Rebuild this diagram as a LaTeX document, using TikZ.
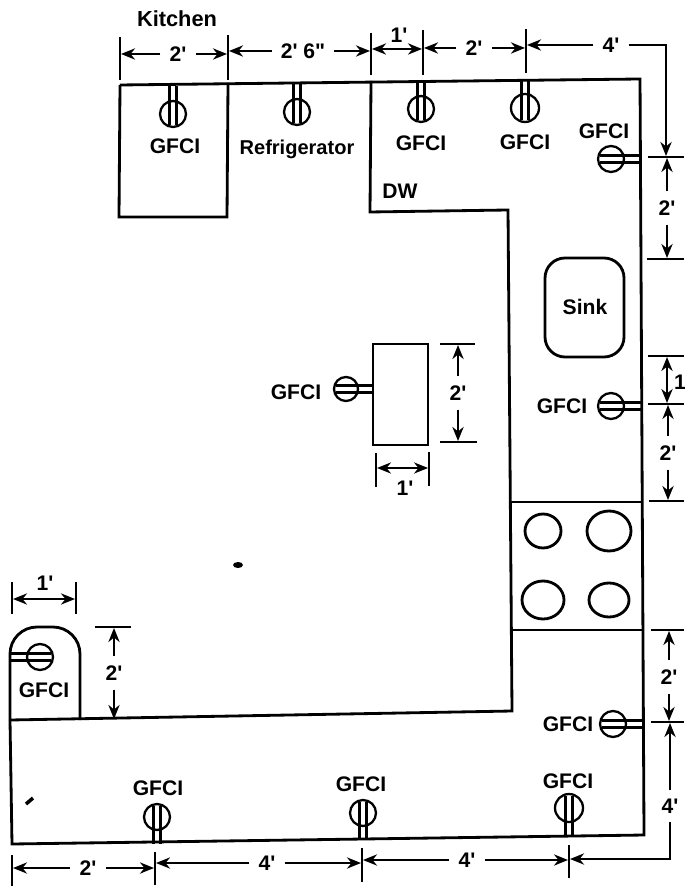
\documentclass[tikz,border=0pt]{standalone}
\usepackage{fontspec}
\setmainfont{Liberation Sans}[Ligatures=TeXOff]
\usetikzlibrary{arrows.meta}

\tikzset{
    wall/.style={line width=0.8pt},
    outlet/.style={line width=0.65pt},
    ticks/.style={line width=0.7pt},
    dimline/.style={line width=0.55pt, -{Stealth[length=4pt,width=3.2pt]}},
    dimboth/.style={line width=0.55pt, {Stealth[length=4pt,width=3.2pt]}-{Stealth[length=4pt,width=3.2pt]}},
    lbl/.style={font=\fontsize{6}{7}\selectfont\bfseries, inner sep=0pt},
    dimlbl/.style={font=\fontsize{6}{7}\selectfont\bfseries, inner sep=2.4pt}
}

\begin{document}
\begin{tikzpicture}[x=0.01cm, y=-0.01cm]
            \useasboundingbox (0,0) rectangle (684,886);

            % walls
            \draw[wall] (10,720)--(12,844)--(644,835)--(640,79)--(120,85);
            \draw[wall] (371,81)--(370,212)--(508,210)--(512,711)--(10,720);
            \draw[wall] (120,85)--(119,217)--(227,217)--(228,83);
            \draw[wall, rounded corners=0.27cm] (10,720)--(10,627)--(80,627)--(80,720);

            % island and sink
            \draw[wall] (373,344) rectangle (428,445);
            \draw[wall, rounded corners=0.2cm] (545,258) rectangle (624,357);

            % range
            \draw[wall] (510,502)--(641,502);
            \draw[wall] (511,630)--(643,630);
            \draw[wall] (543,531) circle[x radius=18, y radius=17];
            \draw[wall] (609,531) circle[x radius=22, y radius=20];
            \draw[wall] (543,600) circle[x radius=21, y radius=19];
            \draw[wall] (609,600) circle[x radius=20, y radius=17];

            % outlets
            \foreach \cx/\cy/\ang/\len/\rad in {173/114/90/28/13, 297/112/90/29/13, 421/109/90/29/13,
                525/108/90/29/14, 611/159/0/29/13, 611/406/0/30/13, 346/389/0/27/12, 40/657/180/30/13,
                613/724/0/30/13, 569/808/-90/27/14, 363/813/-90/25/13, 157/817/-90/27/13}
            {
                \begin{scope}[shift={(\cx,\cy)}, rotate=\ang]
                    \draw[outlet, fill=white] (0,0) circle[radius=\rad];
                    \draw[outlet] (-\rad+2,-3.5)--(\len,-3.5);
                    \draw[outlet] (-\rad+2,3.5)--(\len,3.5);
                \end{scope}
            }

            % notation
            \node[lbl, font=\fontsize{6.2}{7}\selectfont\bfseries] (kitchen) at (177,19) {Kitchen};
            \node[lbl, font=\fontsize{5.7}{7}\selectfont\bfseries] (refrigerator) at (297,149) {Refrigerator};
            \node[lbl] (dw) at (400,191) {DW};
            \node[lbl] (sink) at (585,307) {Sink};
            \foreach \i/\x/\y in {a/175/146, b/421/143, c/525/142, d/604/131, e/296/392, f/562/406,
                g/568/724, h/568/781, i/361/784, j/158/788, k/44/690}
            {
                \node[lbl] (gfci\i) at (\x,\y) {GFCI};
            }

            % dimension ticks
            \foreach \x/\ya/\yb in {120/37/80, 228/35/80, 371/33/75, 423/30/75, 526/29/73,
                12/582/614, 76/582/614, 376/453/487, 429/452/486,
                12/855/886, 155/852/885, 362/848/882, 569/845/878}
            {
                \draw[ticks] (\x,\ya)--(\x,\yb);
            }
            \foreach \y/\xa/\xb in {157/648/684, 259/647/684, 356/648/684, 404/648/684, 501/649/684,
                630/651/684, 722/651/684, 344/440/475, 442/440/477, 627/95/131}
            {
                \draw[ticks] (\xa,\y)--(\xb,\y);
            }

            % dimensions along the top
            \node[dimlbl] (topa) at (178,54) {2'};
            \draw[dimline] (topa)--(121,54);
            \draw[dimline] (topa)--(227,54);
            \node[dimlbl] (topb) at (303,51) {2' 6"};
            \draw[dimline] (topb)--(229,51);
            \draw[dimline] (topb)--(370,51);
            \node[dimlbl] (topc) at (399,35) {1'};
            \draw[dimboth] (372,49)--(422,49);
            \node[dimlbl] (topd) at (474,48) {2'};
            \draw[dimline] (topd)--(424,48);
            \draw[dimline] (topd)--(525,48);
            \node[dimlbl] (tope) at (611,45) {4'};
            \draw[dimline] (tope)--(527,45);
            \draw[dimline] (tope)--(666,45)--(666,156);

            % dimensions along the right
            \node[dimlbl] (righta) at (667,208) {2'};
            \draw[dimline] (righta)--(667,158);
            \draw[dimline] (righta)--(667,258);
            \draw[dimboth] (667,357)--(667,403);
            \node[lbl] (rightb) at (680,382) {1};
            \node[dimlbl] (rightc) at (668,453) {2'};
            \draw[dimline] (rightc)--(668,405);
            \draw[dimline] (rightc)--(668,500);
            \node[dimlbl] (rightd) at (669,677) {2'};
            \draw[dimline] (rightd)--(669,631);
            \draw[dimline] (rightd)--(669,721);
            \node[dimlbl] (righte) at (670,806) {4'};
            \draw[dimline] (righte)--(670,723);
            \draw[dimline] (righte)--(670,859)--(570,859);

            % dimensions along the bottom
            \node[dimlbl] (bota) at (88,868) {2'};
            \draw[dimline] (bota)--(13,868);
            \draw[dimline] (bota)--(154,868);
            \node[dimlbl] (botb) at (267,863) {4'};
            \draw[dimline] (botb)--(156,863);
            \draw[dimline] (botb)--(361,863);
            \node[dimlbl] (botc) at (467,860) {4'};
            \draw[dimline] (botc)--(363,860);
            \draw[dimline] (botc)--(568,860);

            % dimensions of the island
            \node[dimlbl] (islanda) at (458,393) {2'};
            \draw[dimline] (islanda)--(458,345);
            \draw[dimline] (islanda)--(458,441);
            \draw[dimboth] (377,468)--(428,468);
            \node[dimlbl] (islandb) at (405,488) {1'};

            % dimensions at the left
            \node[dimlbl] (lefta) at (45,583) {1'};
            \draw[dimboth] (13,599)--(75,599);
            \node[dimlbl] (leftb) at (114,673) {2'};
            \draw[dimline] (leftb)--(114,628);
            \draw[dimline] (leftb)--(114,719);

            % scan marks
            \fill (238,565) circle[x radius=5, y radius=3];
            \draw[line width=1pt] (26,804)--(33,798);
        \end{tikzpicture}
\end{document}
